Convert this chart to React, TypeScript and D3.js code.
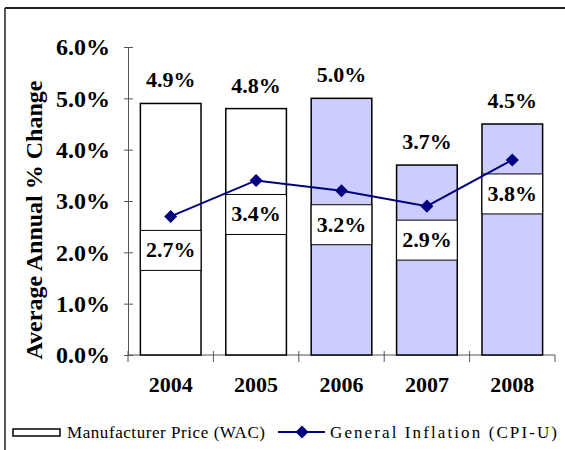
import React, { useRef, useEffect } from 'react';
import * as d3 from 'd3';

// values
const years = ['2004', '2005', '2006', '2007', '2008'];
const wac = [4.9, 4.8, 5.0, 3.7, 4.5];
const cpi = [2.7, 3.4, 3.2, 2.9, 3.8];
const projected = [false, false, true, true, true];
const yTicks = [0, 1, 2, 3, 4, 5, 6];

const W = 565;
const H = 450;
const serif = 'Liberation Serif, Times New Roman, serif';

export default function App() {
  const ref = useRef<SVGSVGElement>(null);

  useEffect(() => {
    const svg = d3.select(ref.current);
    svg.selectAll('*').remove();

    const x = d3.scaleBand().domain(years).range([128, 555]).paddingInner(0.29).paddingOuter(0.145);
    const y = d3.scaleLinear().domain([0, 6]).range([355, 47]);
    const bw = x.bandwidth();
    const step = x.step();

    // frame
    svg.append('line').attr('x1', 5).attr('x2', W).attr('y1', 8).attr('y2', 8)
      .attr('stroke', '#222').attr('stroke-width', 2);
    svg.append('line').attr('x1', 5).attr('x2', 5).attr('y1', 8).attr('y2', H)
      .attr('stroke', '#222').attr('stroke-width', 1.5);

    // y axis
    const ya = svg.append('g').attr('transform', 'translate(128,0)')
      .call(d3.axisLeft(y).tickValues(yTicks).tickSizeInner(4).tickSizeOuter(0).tickPadding(14)
        .tickFormat(d => `${(+d).toFixed(1)}%`));
    ya.select('.domain').attr('stroke', '#555');
    ya.selectAll('.tick line').attr('stroke', '#555');
    ya.selectAll('.tick').append('line').attr('x2', 5).attr('stroke', '#555');
    ya.selectAll('.tick text')
      .attr('font-family', serif).attr('font-weight', 'bold').attr('font-size', 24).attr('fill', '#000');

    // x axis
    const xa = svg.append('g').attr('transform', 'translate(0,355)');
    xa.append('line').attr('x1', 128).attr('x2', 555).attr('stroke', '#555');
    years.forEach(d => {
      const bx = (x(d) as number) - (step - bw) / 2;
      xa.append('line').attr('x1', bx).attr('x2', bx).attr('y1', -4).attr('y2', 7).attr('stroke', '#555');
    });
    xa.append('line').attr('x1', 555).attr('x2', 555).attr('y1', 0).attr('y2', 7).attr('stroke', '#555');
    xa.selectAll('text.year').data(years).enter().append('text')
      .attr('x', d => (x(d) as number) + bw / 2).attr('y', 37)
      .attr('text-anchor', 'middle').attr('font-family', serif).attr('font-weight', 'bold')
      .attr('font-size', 22).text(d => d);

    // y title
    svg.append('text')
      .attr('transform', 'translate(42,220) rotate(-90)')
      .attr('text-anchor', 'middle').attr('font-family', serif).attr('font-weight', 'bold')
      .attr('font-size', 24).text('Average Annual % Change');

    // bars
    const bars = svg.append('g');
    bars.selectAll('rect').data(years).enter().append('rect')
      .attr('x', d => x(d) as number).attr('width', bw)
      .attr('y', (d, i) => y(wac[i])).attr('height', (d, i) => y(0) - y(wac[i]))
      .attr('fill', (d, i) => (projected[i] ? '#ccccff' : '#fff'))
      .attr('stroke', '#000').attr('stroke-width', 1.5);
    bars.selectAll('text').data(years).enter().append('text')
      .attr('x', d => (x(d) as number) + bw / 2).attr('y', (d, i) => y(wac[i]) - 16)
      .attr('text-anchor', 'middle').attr('font-family', serif).attr('font-weight', 'bold')
      .attr('font-size', 22).text((d, i) => `${wac[i].toFixed(1)}%`);

    // cpi label boxes
    const boxes = svg.append('g');
    years.forEach((d, i) => {
      const top = y(cpi[i]) + 14;
      boxes.append('rect').attr('x', x(d) as number).attr('y', top).attr('width', bw).attr('height', 40)
        .attr('fill', '#fff').attr('stroke', '#000').attr('stroke-width', 1);
      boxes.append('text').attr('x', (x(d) as number) + bw / 2).attr('y', top + 27)
        .attr('text-anchor', 'middle').attr('font-family', serif).attr('font-weight', 'bold')
        .attr('font-size', 22).text(`${cpi[i].toFixed(1)}%`);
    });

    // cpi line
    const line = d3.line<number>()
      .x((d, i) => (x(years[i]) as number) + bw / 2)
      .y(d => y(d));
    svg.append('path').datum(cpi).attr('d', line).attr('fill', 'none')
      .attr('stroke', '#000080').attr('stroke-width', 2);
    const diamond = d3.symbol(d3.symbolSquare, 85);
    svg.selectAll('path.mk').data(cpi).enter().append('path').attr('class', 'mk')
      .attr('d', diamond)
      .attr('transform', (d, i) => `translate(${(x(years[i]) as number) + bw / 2},${y(d)}) rotate(45)`)
      .attr('fill', '#000080');

    // legend
    const lg = svg.append('g');
    lg.append('rect').attr('x', 13).attr('y', 429).attr('width', 47).attr('height', 7)
      .attr('fill', '#fff').attr('stroke', '#000').attr('stroke-width', 1.5);
    lg.append('text').attr('x', 67).attr('y', 438).attr('font-family', serif).attr('font-size', 17)
      .attr('textLength', 198).attr('lengthAdjust', 'spacing').text('Manufacturer Price (WAC)');
    lg.append('line').attr('x1', 278).attr('x2', 325).attr('y1', 432).attr('y2', 432)
      .attr('stroke', '#000080').attr('stroke-width', 2);
    lg.append('path').attr('d', diamond).attr('transform', 'translate(302,432) rotate(45)').attr('fill', '#000080');
    lg.append('text').attr('x', 330).attr('y', 438).attr('font-family', serif).attr('font-size', 17)
      .attr('textLength', 227).attr('lengthAdjust', 'spacing').text('General Inflation (CPI-U)');
  }, []);

  return (
    <svg ref={ref} width={W} height={H} style={{ position: 'absolute', left: 0, top: 0, background: '#fff' }} />
  );
}
